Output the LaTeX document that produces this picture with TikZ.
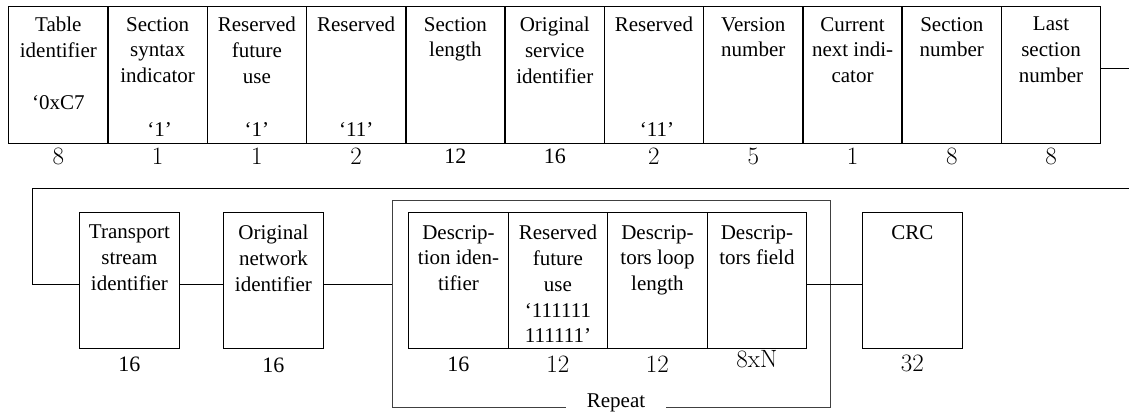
\documentclass[tikz,border=0pt]{standalone}
\usepackage{fontspec}
\newfontfamily\tnr{Liberation Serif}
\begin{document}
\begin{tikzpicture}[x=1pt,y=-1pt,
  box/.style={draw, line width=1.4pt, inner sep=0, anchor=north west, minimum width=99.3pt, minimum height=137pt},
  bbox/.style={draw, line width=1.4pt, inner sep=0, anchor=north west, minimum width=99.5pt, minimum height=136pt},
  lbl/.style={anchor=north, inner sep=0, align=center, font=\tnr\fontsize{21}{25.8}\selectfont},
  val/.style={anchor=base, inner sep=0, font=\tnr\fontsize{21}{25}\selectfont},
  num/.style={inner sep=0, font=\fontsize{25}{27}\selectfont},
  numt/.style={inner sep=0, font=\tnr\fontsize{22}{24}\selectfont},
  conn/.style={line width=0.9pt}]
\useasboundingbox (0,0) rectangle (1129,414);
% top row
\node[box] (t1) at (8,6) {};
\node[box] (t2) at (107.27,6) {};
\node[box] (t3) at (206.5,6) {};
\node[box] (t4) at (305.8,6) {};
\node[box] (t5) at (405.1,6) {};
\node[box] (t6) at (504.4,6) {};
\node[box] (t7) at (603.6,6) {};
\node[box] (t8) at (702.9,6) {};
\node[box] (t9) at (802.2,6) {};
\node[box] (t10) at (901.4,6) {};
\node[box] (t11) at (1000.7,6) {};
\node[lbl] (l1) at ([shift={(0,11)}]t1.north) {Table\\identifier};
\node[lbl] (l2) at ([shift={(0,11)}]t2.north) {Section\\syntax\\indicator};
\node[lbl] (l3) at ([shift={(0,11)}]t3.north) {Reserved\\future\\use};
\node[lbl] (l4) at ([shift={(0,11)}]t4.north) {Reserved};
\node[lbl] (l5) at ([shift={(0,11)}]t5.north) {Section\\length};
\node[lbl] (l6) at ([shift={(0,11)}]t6.north) {Original\\service\\identifier};
\node[lbl] (l7) at ([shift={(0,11)}]t7.north) {Reserved};
\node[lbl] (l8) at ([shift={(0,11)}]t8.north) {Version\\number};
\node[lbl] (l9) at ([shift={(0,11)}]t9.north) {Current\\next indi-\\cator};
\node[lbl] (l10) at ([shift={(0,11)}]t10.north) {Section\\number};
\node[lbl] (l11) at ([shift={(0,11)}]t11.north) {Last\\section\\number};
\node[val] (v1) at ([shift={(0,104)}]t1.north) {‘0xC7};
\node[val] (v2) at ([shift={(2,131)}]t2.north) {‘1’};
\node[val] (v3) at ([shift={(0,131)}]t3.north) {‘1’};
\node[val] (v4) at ([shift={(0,131)}]t4.north) {‘11’};
\node[val] (v7) at ([shift={(3,131)}]t7.north) {‘11’};
\node[num] (n1) at ([shift={(0,12)}]t1.south) {8};
\node[num] (n2) at ([shift={(0,12)}]t2.south) {1};
\node[num] (n3) at ([shift={(0,12)}]t3.south) {1};
\node[num] (n4) at ([shift={(0,12)}]t4.south) {2};
\node[numt] (n5) at ([shift={(0,12)}]t5.south) {12};
\node[numt] (n6) at ([shift={(0,12)}]t6.south) {16};
\node[num] (n7) at ([shift={(0,12)}]t7.south) {2};
\node[num] (n8) at ([shift={(0,12)}]t8.south) {5};
\node[num] (n9) at ([shift={(0,12)}]t9.south) {1};
\node[num] (n10) at ([shift={(0,12)}]t10.south) {8};
\node[num] (n11) at ([shift={(0,12)}]t11.south) {8};
% bottom row
\node[draw=black!75, line width=0.9pt, inner sep=0, anchor=north west, minimum width=438pt, minimum height=207pt] (rep) at (392,200) {};
\node[bbox] (ts) at (79,212) {};
\node[bbox] (on) at (223,212) {};
\node[bbox] (di) at (408,212) {};
\node[bbox] (rf) at (507.5,212) {};
\node[bbox] (dl) at (607,212) {};
\node[bbox] (df) at (706.5,212) {};
\node[bbox] (crc) at (862,212) {};
\node[lbl] (lts) at ([shift={(0,13)}]ts.north) {Transport\\stream\\identifier};
\node[lbl] (lon) at ([shift={(0,13)}]on.north) {Original\\network\\identifier};
\node[lbl] (ldi) at ([shift={(0,13)}]di.north) {Descrip-\\tion iden-\\tifier};
\node[lbl] (lrf) at ([shift={(0,13)}]rf.north) {Reserved\\future\\use\\‘111111\\111111’};
\node[lbl] (ldl) at ([shift={(0,13)}]dl.north) {Descrip-\\tors loop\\length};
\node[lbl] (ldf) at ([shift={(0,13)}]df.north) {Descrip-\\tors field};
\node[lbl] (lcrc) at ([shift={(0,13)}]crc.north) {CRC};
\node[numt] (nts) at ([shift={(0,15)}]ts.south) {16};
\node[numt] (non) at ([shift={(0,16)}]on.south) {16};
\node[numt] (ndi) at ([shift={(0,15)}]di.south) {16};
\node[num] (nrf) at ([shift={(0,15)}]rf.south) {12};
\node[num] (ndl) at ([shift={(0,15)}]dl.south) {12};
\node[num] (ndf) at ([shift={(0,10)}]df.south) {8xN};
\node[num] (ncrc) at ([shift={(0,14)}]crc.south) {32};
\node[anchor=base, fill=white, inner xsep=21pt, inner ysep=3pt, font=\tnr\fontsize{21}{25}\selectfont] (rl) at (616,407) {Repeat};
% connectors
\coordinate (e1) at (1129,68);
\coordinate (e2) at (1129,188);
\coordinate (c2) at (32,188);
\coordinate (mid) at (0,284);
\draw[conn] (t11.east |- e1) -- (e1);
\draw[conn] (e2) -- (c2) |- (ts.west |- mid);
\draw[conn] (ts.east |- mid) -- (on.west |- mid);
\draw[conn] (on.east |- mid) -- (rep.west |- mid);
\draw[conn] (df.east |- mid) -- (crc.west |- mid);
\end{tikzpicture}
\end{document}
